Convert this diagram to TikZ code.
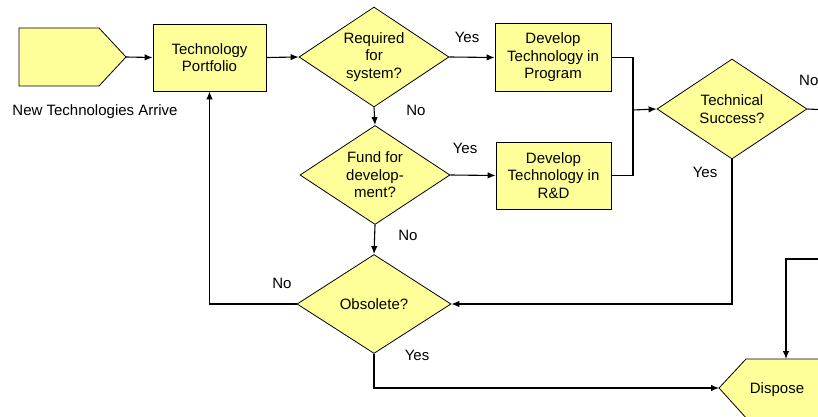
\documentclass[tikz,border=0pt]{standalone}
\usepackage{fontspec}
\setmainfont{Liberation Sans}
\usetikzlibrary{shapes.geometric,arrows.meta}
\definecolor{boxfill}{RGB}{255,255,153}
\tikzset{
  shapeline/.style={draw=black,line width=0.8pt,fill=boxfill},
  procbox/.style={shapeline,rectangle,minimum width=116pt,minimum height=68pt,inner sep=0pt,align=center},
  decision/.style={shapeline,diamond,aspect=1.5,minimum width=150pt,minimum height=100pt,inner sep=0pt,align=center},
  conn/.style={line width=1.1pt,draw=black},
  arr/.style={conn,-{Latex[length=8pt,width=6.5pt]}},
  lbl/.style={inner sep=0pt}
}
\begin{document}
\begin{tikzpicture}[x=1pt,y=-1pt,font=\fontsize{15}{17.5}\selectfont]
\useasboundingbox (0,0) rectangle (818,417);
\clip (0,0) rectangle (818,417);
% start pentagon
\draw[shapeline] (19,28) -- (99,28) -- (126,57) -- (99,86) -- (19,86) -- cycle;
\coordinate (starttip) at (126,57);
\node[lbl] (arrive) at (95,112) {New Technologies Arrive};
% nodes
\node[procbox,minimum width=113pt,minimum height=67pt] (port) at (209.5,57.5) {Technology\\Portfolio};
\node[decision] (req) at (374,57) {Required\\for\\system?};
\node[procbox] (prog) at (553,57.5) {Develop\\Technology in\\Program};
\node[decision,minimum height=99pt] (fund) at (375,175) {Fund for\\develop-\\ment?};
\node[procbox,minimum width=115pt,minimum height=67pt] (rd) at (553.5,175.5) {Develop\\Technology in\\R\&D};
\node[decision] (tech) at (732,109) {Technical\\Success?};
\node[decision,minimum width=154pt,minimum height=99pt] (obs) at (374,304) {Obsolete?};
% dispose pentagon (pointing left, cut by the right edge)
\draw[shapeline] (719,388) -- (746,359) -- (850,359) -- (850,420) -- (748,420) -- cycle;
\coordinate (disptip) at (719,388);
\coordinate (disptop) at (786,359);
\node[lbl] (dispose) at (777,390) {Dispose};
% coordinates
\coordinate (join) at (633,110);
\coordinate (techout) at (830,110);
\coordinate (rightin) at (830,259);
% connectors
\draw[arr] (starttip) -- (port.west);
\draw[arr] (port.east) -- (req.west);
\draw[arr] (req.east) -- (prog.west);
\draw[arr] (req.south) -- (fund.north);
\draw[arr] (fund.east) -- (rd.west);
\draw[conn] (prog.east) -| (join);
\draw[conn] (rd.east) -| (join);
\draw[arr] (join) -- (tech.west);
\draw[conn] (tech.east) -- (techout);
\draw[arr] (tech.south) |- (obs.east);
\draw[arr] (fund.south) -- (obs.north);
\draw[arr] (obs.west) -| (port.south);
\draw[arr] (obs.south) |- (disptip);
\draw[arr] (rightin) -| (disptop);
% labels
\node[lbl] (yes1) at (467,37) {Yes};
\node[lbl] (no1) at (416,110) {No};
\node[lbl] (yes2) at (465,148) {Yes};
\node[lbl,anchor=west] (no2) at (799,80) {No};
\node[lbl] (yes3) at (705,172) {Yes};
\node[lbl] (no3) at (408,235) {No};
\node[lbl] (no4) at (282,283) {No};
\node[lbl] (yes4) at (417,355) {Yes};
\end{tikzpicture}
\end{document}
